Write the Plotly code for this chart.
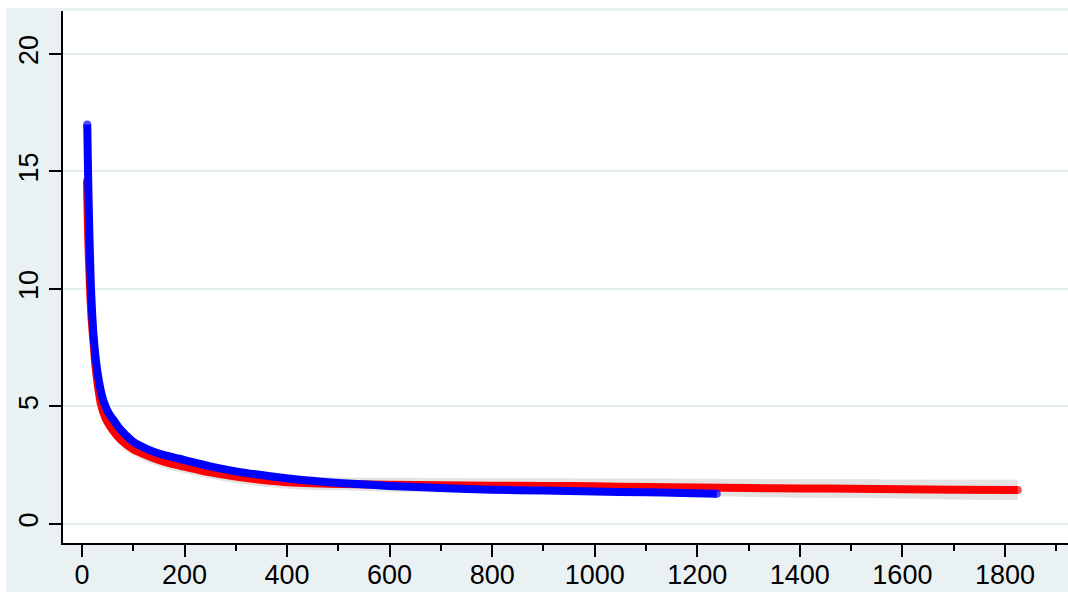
import plotly.graph_objects as go

# Fitted curve, group 1 (red) with its confidence band
red_x = [9.8, 11, 12.5, 14, 15.6, 18, 20, 23, 26, 30, 33, 37, 41, 45, 55, 65, 74, 87, 100,
         126, 150, 172, 200, 250, 300, 367, 425, 480, 536, 600, 700, 800, 900, 1000, 1100,
         1200, 1300, 1400, 1500, 1600, 1700, 1825]
red_y = [14.6, 13.3, 12.0, 11.0, 10.1, 9.0, 8.4, 7.6, 6.8, 6.05, 5.6, 5.1, 4.8, 4.55, 4.15,
         3.85, 3.62, 3.38, 3.18, 2.92, 2.72, 2.58, 2.44, 2.20, 2.02, 1.84, 1.75, 1.71, 1.69,
         1.67, 1.65, 1.63, 1.62, 1.60, 1.57, 1.55, 1.53, 1.51, 1.50, 1.48, 1.46, 1.45]
ci_lo = [14.35, 13.05, 11.75, 10.75, 9.85, 8.75, 8.15, 7.35, 6.55, 5.80, 5.35, 4.85, 4.55,
         4.30, 3.90, 3.60, 3.37, 3.12, 2.91, 2.65, 2.45, 2.31, 2.17, 1.93, 1.74, 1.56, 1.47,
         1.43, 1.41, 1.37, 1.34, 1.31, 1.29, 1.26, 1.21, 1.18, 1.15, 1.12, 1.10, 1.07, 1.04,
         1.02]
ci_hi = [14.85, 13.55, 12.25, 11.25, 10.35, 9.25, 8.65, 7.85, 7.05, 6.30, 5.85, 5.35, 5.05,
         4.80, 4.40, 4.10, 3.87, 3.64, 3.45, 3.19, 2.99, 2.85, 2.71, 2.47, 2.30, 2.12, 2.03,
         1.99, 1.97, 1.97, 1.96, 1.95, 1.95, 1.94, 1.93, 1.92, 1.91, 1.90, 1.90, 1.89, 1.88,
         1.88]

# Fitted curve, group 2 (blue)
blue_x = [10.3, 11, 12, 13, 14.5, 16, 17.4, 20, 23, 26, 30, 35, 40, 45, 50, 55, 61, 74, 87,
          100, 126, 150, 172, 200, 250, 300, 367, 425, 480, 536, 600, 700, 800, 900, 1000,
          1100, 1170, 1238]
blue_y = [17.0, 16.1, 14.8, 13.7, 12.3, 11.1, 10.1, 8.9, 7.9, 7.2, 6.5, 5.85, 5.38, 5.05,
          4.80, 4.62, 4.44, 4.05, 3.75, 3.50, 3.20, 3.00, 2.87, 2.72, 2.45, 2.24, 2.03, 1.88,
          1.78, 1.70, 1.62, 1.53, 1.46, 1.42, 1.38, 1.35, 1.32, 1.29]

x_ticks = [0, 200, 400, 600, 800, 1000, 1200, 1400, 1600, 1800]
y_ticks = [0, 5, 10, 15, 20]

BG = "#EAF1F3"
GRID = "#E4EDEF"
FONT = "Liberation Sans, Arial, sans-serif"

fig = go.Figure()

fig.add_trace(go.Scatter(x=red_x, y=ci_lo, mode="lines",
                         line=dict(width=0, shape="spline", smoothing=0.8),
                         hoverinfo="skip", showlegend=False))
fig.add_trace(go.Scatter(x=red_x, y=ci_hi, mode="lines",
                         line=dict(width=0, shape="spline", smoothing=0.8),
                         fill="tonexty", fillcolor="#E3E3E3",
                         hoverinfo="skip", showlegend=False))


def end_caps(n, size):
    return [size] + [0] * (n - 2) + [size]


fig.add_trace(go.Scatter(x=red_x, y=red_y, mode="lines+markers",
                         line=dict(color="#FF0000", width=8, shape="spline", smoothing=0.8),
                         marker=dict(color="#FF0000", size=end_caps(len(red_x), 8),
                                     line=dict(width=0)),
                         showlegend=False))
fig.add_trace(go.Scatter(x=blue_x, y=blue_y, mode="lines+markers",
                         line=dict(color="#0000FF", width=8, shape="spline", smoothing=0.8),
                         marker=dict(color="#0000FF", size=end_caps(len(blue_x), 8),
                                     line=dict(width=0)),
                         showlegend=False))

fig.update_layout(
    template="none",
    width=1068, height=592,
    margin=dict(l=63, r=0, t=11, b=49, pad=0, autoexpand=False),
    paper_bgcolor=BG,
    plot_bgcolor="white",
    font=dict(family=FONT, size=28, color="black"),
    showlegend=False,
    xaxis=dict(
        range=[-37, 1923],
        automargin=False,
        tickvals=x_ticks,
        ticktext=[str(v) for v in x_ticks],
        ticks="outside", ticklen=12, tickwidth=2, tickcolor="black",
        ticklabelstandoff=-5,
        minor=dict(dtick=100, tick0=0, ticks="outside", ticklen=6, tickwidth=2,
                   tickcolor="black", showgrid=False),
        showline=True, linecolor="black", linewidth=2,
        showgrid=False, zeroline=False,
        tickfont=dict(family=FONT, size=27, color="black"),
    ),
    yaxis=dict(
        range=[-0.81, 21.83],
        automargin=False,
        tickvals=y_ticks,
        ticktext=[str(v) for v in y_ticks],
        tickangle=-90,
        ticks="outside", ticklen=12, tickwidth=2, tickcolor="black",
        showline=True, linecolor="black", linewidth=2,
        showgrid=True, gridcolor=GRID, gridwidth=2, zeroline=False,
        tickfont=dict(family=FONT, size=27, color="black"),
    ),
    shapes=[
        # thin white border along the top and left edges of the canvas
        dict(type="rect", xref="paper", yref="paper", x0=-0.07, x1=1.01,
             y0=(543 - 8) / 532, y1=1.03, fillcolor="white", line=dict(width=0),
             layer="above"),
        dict(type="rect", xref="paper", yref="paper", x0=-0.07, x1=(6 - 63) / 1005,
             y0=-0.1, y1=1.03, fillcolor="white", line=dict(width=0), layer="above"),
    ],
)

fig.write_html("out.html")
